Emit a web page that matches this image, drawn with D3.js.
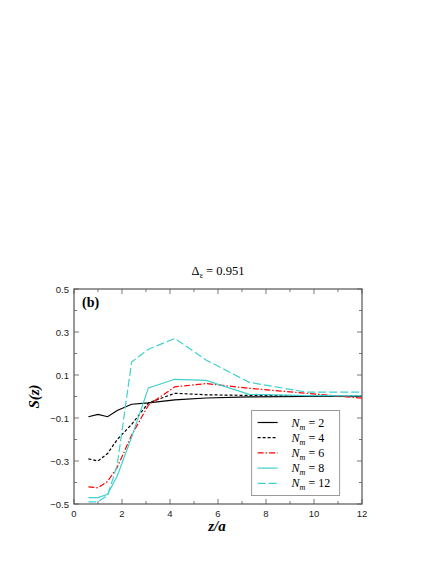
<!DOCTYPE html>
<html>
<head>
<meta charset="utf-8">
<script src="https://cdn.jsdelivr.net/npm/d3@7"></script>
<style>
  body { margin: 0; background: #fff; }
  svg { display: block; }
  .serif { font-family: "Liberation Serif", "DejaVu Serif", serif; }
  .sans { font-family: "Liberation Sans", "DejaVu Sans", sans-serif; }
</style>
</head>
<body>
<svg id="chart"></svg>
<script>
const WIDTH = 436, HEIGHT = 564;

// data
const zGrid = [0.6, 1.0, 1.4, 1.8, 2.4, 3.1, 4.2, 5.5, 7.3, 9.7, 12];
const sNm2  = [-0.094, -0.083, -0.094, -0.065, -0.036, -0.03, -0.016, -0.007, -0.002, 0.0, 0.0];
const sNm4  = [-0.29, -0.30, -0.265, -0.20, -0.13, -0.03, 0.015, 0.008, 0.005, 0.003, 0.003];
const sNm6  = [-0.42, -0.425, -0.395, -0.33, -0.18, -0.04, 0.045, 0.06, 0.038, 0.015, -0.008];
const sNm8  = [-0.47, -0.47, -0.455, -0.37, -0.19, 0.04, 0.08, 0.075, 0.01, 0.004, 0.003];
const sNm12 = [-0.49, -0.49, -0.46, -0.32, 0.16, 0.22, 0.27, 0.17, 0.066, 0.02, 0.02];

const seriesLabels = ["2", "4", "6", "8", "12"];
const seriesValues = [sNm2, sNm4, sNm6, sNm8, sNm12];
const seriesColors = ["#000000", "#000000", "#ff0000", "#40d0d0", "#40d0d0"];
const seriesDash = [null, "3,2", "6,2,1.5,2", null, "8,3"];

const xTicks = [0, 2, 4, 6, 8, 10, 12];
const yTicks = [-0.5, -0.3, -0.1, 0.1, 0.3, 0.5];

const margin = { top: 289, left: 74, right: 74, bottom: 60 };
const width = 288, height = 215;

const svg = d3.select('svg#chart')
                .attr('width', WIDTH)
                .attr('height', HEIGHT);

const plot = svg.append('g')
                .attr('transform', `translate(${margin.left}, ${margin.top})`);

const x = d3.scaleLinear().domain([0, 12]).range([0, width]);
const y = d3.scaleLinear().domain([-0.5, 0.5]).range([height, 0]);

const frameColor = "#555";

// ticks inside the frame, on all four sides
const xMinor = d3.range(0, 13, 1);
const yMinor = d3.range(-0.5, 0.51, 0.1);

xMinor.forEach(v => {
    const len = v % 2 === 0 ? 5 : 3;
    plot.append("line").attr("x1", x(v)).attr("x2", x(v)).attr("y1", height).attr("y2", height - len)
        .attr("stroke", frameColor).attr("stroke-width", 0.8);
    plot.append("line").attr("x1", x(v)).attr("x2", x(v)).attr("y1", 0).attr("y2", len)
        .attr("stroke", frameColor).attr("stroke-width", 0.8);
});
yMinor.forEach((v, i) => {
    const len = i % 2 === 0 ? 5 : 3;
    plot.append("line").attr("x1", 0).attr("x2", len).attr("y1", y(v)).attr("y2", y(v))
        .attr("stroke", frameColor).attr("stroke-width", 0.8);
    plot.append("line").attr("x1", width).attr("x2", width - len).attr("y1", y(v)).attr("y2", y(v))
        .attr("stroke", frameColor).attr("stroke-width", 0.8);
});

plot.append("rect")
    .attr("width", width).attr("height", height)
    .attr("fill", "none").attr("stroke", frameColor).attr("stroke-width", 1.2);

// tick labels
plot.selectAll("text.xtick")
    .data(xTicks).join("text")
    .attr("class", "xtick sans")
    .attr("x", d => x(d)).attr("y", height + 13)
    .attr("text-anchor", "middle")
    .style("font-size", "9.5px").attr("fill", "#222")
    .text(d => d);

plot.selectAll("text.ytick")
    .data(yTicks).join("text")
    .attr("class", "ytick sans")
    .attr("x", -5).attr("y", d => y(d) + 3.5)
    .attr("text-anchor", "end")
    .style("font-size", "9.5px").attr("fill", "#222")
    .text(d => d.toFixed(1).replace("-", "\u2212"));

// curves
const line = d3.line()
    .x((d, i) => x(zGrid[i]))
    .y(d => y(d));

plot.append("clipPath").attr("id", "clip")
    .append("rect").attr("width", width).attr("height", height);

const curves = plot.append("g").attr("clip-path", "url(#clip)");
seriesValues.forEach((vals, k) => {
    curves.append("path")
        .datum(vals)
        .attr("d", line)
        .attr("fill", "none")
        .attr("stroke", seriesColors[k])
        .attr("stroke-width", 1.2)
        .attr("stroke-dasharray", seriesDash[k]);
});

// legend
const legend = plot.append("g").attr("transform", `translate(${x(7.4)}, ${y(0.0) + 14})`);
legend.append("rect")
    .attr("width", 88).attr("height", 85)
    .attr("fill", "#fff").attr("stroke", "#999").attr("stroke-width", 1);

seriesLabels.forEach((lab, k) => {
    const ly = 12 + k * 15.2;
    legend.append("line")
        .attr("x1", 6).attr("x2", 26).attr("y1", ly).attr("y2", ly)
        .attr("stroke", seriesColors[k]).attr("stroke-width", 1.2)
        .attr("stroke-dasharray", seriesDash[k]);
    const t = legend.append("text")
        .attr("class", "serif")
        .attr("x", 40).attr("y", ly + 4)
        .style("font-size", "12px");
    t.append("tspan").style("font-style", "italic").text("N");
    t.append("tspan").style("font-style", "italic").style("font-size", "8px").attr("dy", 3).text("m");
    t.append("tspan").attr("dy", -3).text(" = " + lab);
});

// panel tag
plot.append("text")
    .attr("class", "serif")
    .attr("x", 8).attr("y", 18)
    .style("font-weight", "bold").style("font-size", "14px")
    .text("(b)");

// title
const title = svg.append("text")
    .attr("class", "serif")
    .attr("x", margin.left + width / 2).attr("y", 275)
    .attr("text-anchor", "middle")
    .style("font-size", "12.5px");
title.append("tspan").text("\u0394");
title.append("tspan").style("font-size", "8px").attr("dy", 3).text("\u03b5");
title.append("tspan").attr("dy", -3).text(" = 0.951");

// axis labels
svg.append("text")
    .attr("class", "serif")
    .attr("x", margin.left + width / 2 - 1).attr("y", 531)
    .attr("text-anchor", "middle")
    .style("font-weight", "bold").style("font-style", "italic").style("font-size", "15px")
    .text("z/a");

svg.append("text")
    .attr("class", "serif")
    .attr("transform", `translate(39, ${margin.top + height / 2}) rotate(-90)`)
    .attr("text-anchor", "middle")
    .style("font-weight", "bold").style("font-style", "italic").style("font-size", "15px")
    .text("S(z)");
</script>
</body>
</html>
